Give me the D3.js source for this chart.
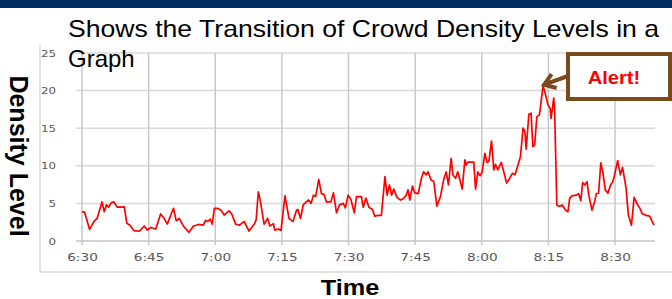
<!DOCTYPE html>
<html>
<head>
<meta charset="utf-8">
<script src="https://cdn.jsdelivr.net/npm/d3@7"></script>
<style>
  body { margin: 0; background: #fff; }
  svg { display: block; font-family: "Liberation Sans", Arial, sans-serif; }
</style>
</head>
<body>
<div id="chart"></div>
<script>
// minutes after 6:30
var minutes = [0, 0.6, 1.7, 2.7, 3.4, 4.5, 5.0, 5.5, 6.0, 6.6, 7.2, 7.9, 9.2, 9.5, 10.1, 10.8, 11.7, 12.9, 14.0, 14.7,
  15.5, 16.6, 17.7, 18.5, 19.2, 20.6, 21.2, 21.9, 22.8, 24.1, 25.1, 26.3, 27.3, 27.8, 28.3, 28.9, 29.3, 29.8,
  30.5, 31.3, 32.0, 33.1, 33.7, 34.6, 35.5, 36.5, 37.6, 38.8, 39.2, 39.7, 40.1, 41.0, 41.8, 42.3, 43.1, 43.4,
  44.2, 44.8, 45.7, 46.6, 47.5, 48.3, 48.6, 49.2, 49.8, 50.5, 51.0, 51.6, 52.1, 52.6, 53.3, 53.9, 54.5, 55.0,
  56.0, 56.6, 57.3, 58.0, 58.8, 59.3, 59.9, 60.5, 61.3, 61.8, 62.4, 62.9, 63.3, 63.9, 64.6, 65.4, 65.9, 66.7,
  67.4, 68.2, 68.7, 69.2, 69.7, 70.2, 70.9, 71.7, 72.4, 73.0, 73.4, 73.8, 74.4, 74.9, 75.7, 76.4, 76.9, 77.5,
  77.9, 78.6, 79.2, 79.9, 80.7, 81.4, 82.0, 82.5, 83.1, 83.5, 84.1, 84.6, 85.6, 86.2, 86.5, 86.9, 87.4, 88.2,
  88.6, 89.1, 89.6, 90.1, 90.7, 91.2, 91.6, 92.2, 92.7, 93.1, 93.6, 94.4, 94.9, 95.6, 96.3, 96.9, 97.5, 98.2,
  98.7, 99.3, 99.7, 100.0, 100.6, 101.1, 101.5, 101.9, 102.4, 103.0, 103.8, 104.3, 104.9, 105.4, 105.6, 106.2,
  106.4, 106.9, 107.5, 108.1, 108.9, 109.4, 109.8, 110.3, 111.3, 111.8, 112.3, 112.7, 113.2, 113.7, 114.1,
  114.8, 115.4, 115.8, 116.3, 116.8, 117.3, 117.8, 118.4, 119.0, 119.5, 119.9, 120.6, 121.2, 121.7, 122.5,
  123.0, 123.7, 124.3, 125.1, 125.6, 126.1, 127.0, 127.8, 128.2, 128.8];

var density = [3.9, 3.8, 1.55, 2.6, 3.0, 5.2, 3.9, 4.8, 4.5, 5.1, 5.2, 4.5, 4.5, 4.6, 2.35, 2.1, 1.37, 1.3, 2.0, 1.45,
  1.8, 1.6, 3.6, 3.0, 2.25, 4.35, 2.7, 3.0, 2.0, 1.15, 2.0, 2.2, 2.1, 2.75, 2.6, 2.9, 2.25, 4.35,
  4.35, 4.1, 3.45, 4.0, 3.6, 2.25, 2.1, 2.6, 1.33, 2.25, 2.8, 6.55, 5.5, 2.25, 3.0, 2.0, 2.3, 1.45,
  1.6, 1.4, 6.0, 3.0, 2.6, 4.1, 4.2, 3.0, 4.8, 5.2, 5.45, 5.0, 6.1, 5.9, 8.2, 6.3, 6.2, 5.2,
  5.2, 6.4, 3.75, 4.8, 5.0, 4.4, 6.1, 5.6, 3.75, 5.9, 5.9, 5.9, 4.5, 5.7, 4.5, 4.2, 3.3, 3.4,
  3.4, 8.55, 6.1, 7.45, 6.1, 6.9, 5.8, 5.45, 5.65, 6.1, 6.8, 5.45, 7.3, 6.4, 6.3, 8.3, 9.2, 8.8,
  9.2, 8.1, 7.9, 4.65, 5.9, 8.1, 9.2, 7.45, 11.0, 8.8, 8.35, 9.2, 6.9, 10.8, 10.1, 10.5, 10.5, 10.5,
  6.9, 9.2, 8.65, 9.2, 11.65, 10.45, 10.6, 13.3, 9.45, 10.2, 9.45, 10.45, 9.3, 7.7, 8.35, 9.0, 8.8, 10.2,
  11.2, 15.0, 14.6, 12.2, 16.85, 17.0, 12.55, 12.75, 16.5, 16.8, 20.65, 19.6, 18.1, 17.65, 16.3, 19.0,
  17.4, 4.8, 4.6, 4.8, 4.1, 3.9, 5.7, 6.0, 6.1, 6.3, 5.35, 7.75, 7.45, 7.9, 6.1,
  4.1, 5.2, 6.3, 6.35, 10.4, 9.0, 6.8, 6.35, 7.45, 7.9, 8.8, 10.7, 8.8, 9.8, 7.0,
  3.45, 2.1, 5.8, 4.8, 4.35, 3.65, 3.4, 3.3, 2.8, 2.1];

var tickMinutes = [0, 15, 30, 45, 60, 75, 90, 105, 120];
var tickLabels = ['6:30', '6:45', '7:00', '7:15', '7:30', '7:45', '8:00', '8:15', '8:30'];
var yTicks = [0, 5, 10, 15, 20, 25];
var titleLines = ['Shows the Transition of Crowd Density Levels in a', 'Graph'];

var W = 672, H = 299;

var svg = d3.select('#chart').append('svg')
  .attr('width', W)
  .attr('height', H);

var x = d3.scaleLinear().domain([0, 129]).range([82, 655]);
var y = d3.scaleLinear().domain([0, 25]).range([241, 53]);

function widen(sel, k) {
  sel.each(function() {
    var len = this.getComputedTextLength();
    d3.select(this).attr('textLength', len * k).attr('lengthAdjust', 'spacingAndGlyphs');
  });
}

// top band
svg.append('rect').attr('x', 0).attr('y', 0).attr('width', W).attr('height', 8).attr('fill', '#022d62');

// outer frame
svg.append('line').attr('x1', 40).attr('x2', 40).attr('y1', 45).attr('y2', 272)
  .attr('stroke', '#d9d9d9').attr('stroke-width', 1.5);
svg.append('line').attr('x1', 40).attr('x2', W).attr('y1', 272).attr('y2', 272)
  .attr('stroke', '#d9d9d9').attr('stroke-width', 1.5);

// horizontal grid
svg.append('g').selectAll('line')
  .data(yTicks)
  .enter().append('line')
  .attr('x1', x(0) - 6).attr('x2', x.range()[1])
  .attr('y1', function(d) { return y(d); })
  .attr('y2', function(d) { return y(d); })
  .attr('stroke', function(d) { return d == 0 ? '#c4c4c4' : '#d9d9d9'; })
  .attr('stroke-width', 1.5);

// vertical grid
svg.append('g').selectAll('line')
  .data(tickMinutes)
  .enter().append('line')
  .attr('x1', function(d) { return x(d); })
  .attr('x2', function(d) { return x(d); })
  .attr('y1', y(25)).attr('y2', y(0) + 4)
  .attr('stroke', '#c8c8c8')
  .attr('stroke-width', 1.5);

// x axis labels
var xAxis = d3.axisBottom(x)
  .tickValues(tickMinutes)
  .tickFormat(function(d, i) { return tickLabels[i]; })
  .tickSize(0)
  .tickPadding(0);

var xg = svg.append('g').attr('transform', 'translate(0,254)').call(xAxis);
xg.select('.domain').remove();
xg.selectAll('text')
  .attr('fill', '#595959')
  .style('font-size', '10.5px')
  .style('font-family', '"DejaVu Sans", sans-serif');
widen(xg.selectAll('text'), 1.3);

// y axis labels
var yAxis = d3.axisLeft(y)
  .tickValues(yTicks)
  .tickSize(0)
  .tickPadding(0);

var yg = svg.append('g').attr('transform', 'translate(56,0)').call(yAxis);
yg.select('.domain').remove();
yg.selectAll('text')
  .attr('fill', '#595959')
  .style('font-size', '9.5px')
  .style('font-family', '"DejaVu Sans", sans-serif');
widen(yg.selectAll('text'), 1.25);

// density line
var line = d3.line()
  .x(function(d, i) { return x(minutes[i]); })
  .y(function(d) { return y(d); });

svg.append('path')
  .datum(density)
  .attr('d', line)
  .attr('fill', 'none')
  .attr('stroke', '#ff0000')
  .attr('stroke-width', 1.7)
  .attr('stroke-linejoin', 'round');

// title
var title = svg.append('g');
title.append('text').attr('x', 68).attr('y', 37).text(titleLines[0]);
title.append('text').attr('x', 68).attr('y', 67).text(titleLines[1]);
title.selectAll('text').style('font-size', '24px').attr('fill', '#000');
title.select('text').attr('textLength', 591).attr('lengthAdjust', 'spacingAndGlyphs');

// axis titles
svg.append('text')
  .attr('transform', 'translate(10,156) rotate(90)')
  .attr('text-anchor', 'middle')
  .style('font-size', '25px')
  .style('font-weight', 'bold')
  .text('Density Level');

var xt = svg.append('text')
  .attr('x', 350).attr('y', 295)
  .attr('text-anchor', 'middle')
  .style('font-size', '22px')
  .style('font-weight', 'bold')
  .text('Time');
widen(xt, 1.15);

// alert annotation
var brown = '#7a4a1c';
var peak = d3.maxIndex(density);
var tipX = x(minutes[peak]) + 1, tipY = y(density[peak]) - 1;
var tailX = 568, tailY = 76;
var ang = Math.atan2(tipY - tailY, tipX - tailX);
var head = 13, spread = 0.6;

svg.append('line')
  .attr('x1', tailX).attr('y1', tailY).attr('x2', tipX).attr('y2', tipY)
  .attr('stroke', brown).attr('stroke-width', 4);
svg.append('path')
  .attr('d', 'M' + (tipX - head * Math.cos(ang - spread)) + ',' + (tipY - head * Math.sin(ang - spread)) +
    'L' + tipX + ',' + tipY +
    'L' + (tipX - head * Math.cos(ang + spread)) + ',' + (tipY - head * Math.sin(ang + spread)))
  .attr('fill', 'none')
  .attr('stroke', brown).attr('stroke-width', 4)
  .attr('stroke-linejoin', 'miter');

svg.append('rect')
  .attr('x', 568).attr('y', 54).attr('width', 102).attr('height', 45)
  .attr('fill', '#fff')
  .attr('stroke', brown).attr('stroke-width', 4);

var alertText = svg.append('text')
  .attr('x', 614).attr('y', 84)
  .attr('text-anchor', 'middle')
  .attr('fill', '#ff0000')
  .style('font-size', '18px')
  .style('font-weight', 'bold')
  .text('Alert!');
widen(alertText, 1.12);
</script>
</body>
</html>
